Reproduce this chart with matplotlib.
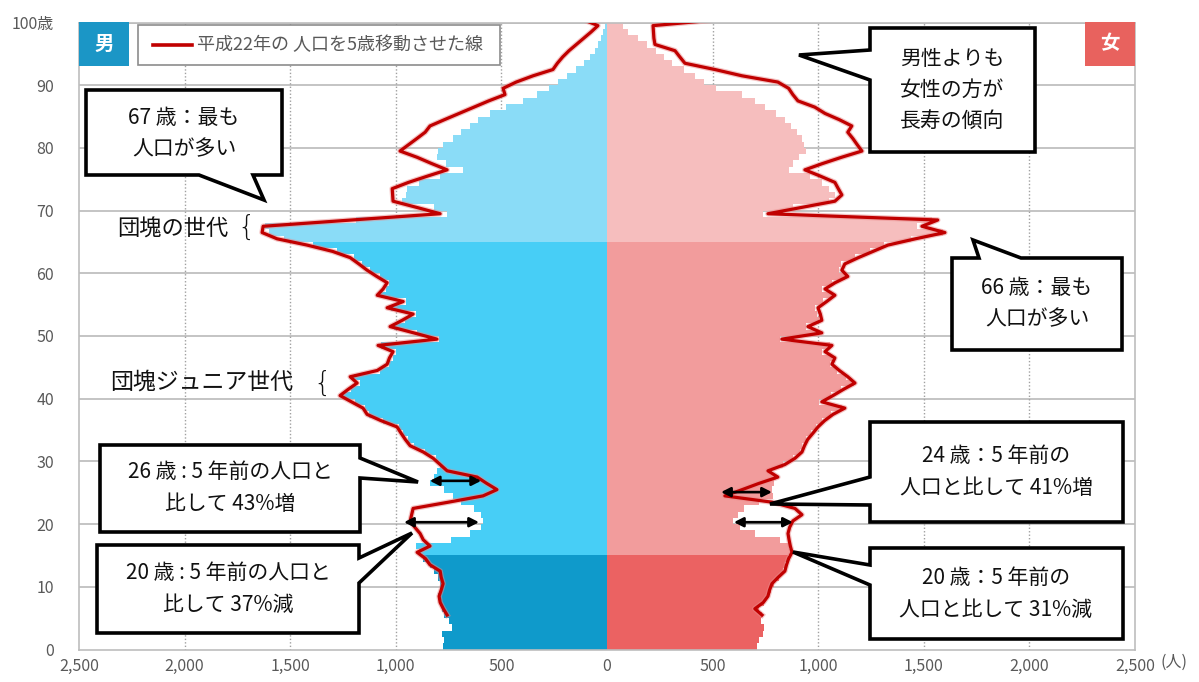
import numpy as np
import matplotlib
matplotlib.use("Agg")
import matplotlib.pyplot as plt
import matplotlib.patheffects as pe
from matplotlib.patches import Polygon, Rectangle
from matplotlib.lines import Line2D

plt.rcParams['font.family'] = ['Noto Sans CJK JP', 'DejaVu Sans']

# ---------------- data ----------------
ages = list(range(0, 101))          # 0 .. 100(100+)
line_ages = list(range(5, 101))     # shifted line exists from age 5

# male population (2015), age 0..100
male_pop = [776, 770, 780, 735, 750, 770, 780, 790, 800, 790,
            790, 800, 820, 840, 870, 890, 905, 740, 650, 595,
            587, 595, 630, 690, 730, 770, 838, 820, 805, 790,
            810, 860, 915, 940, 965, 985, 1060, 1125, 1145, 1195,
            1250, 1210, 1170, 1200, 1075, 1030, 1015, 1000, 1070, 795,
            900, 1010, 955, 905, 1025, 950, 1070, 1045, 1030, 1075,
            1120, 1160, 1200, 1280, 1390, 1530, 1600, 1620, 1190, 757,
            820, 970, 950, 945, 890, 790, 681, 760, 805, 800,
            776, 730, 690, 650, 610, 554, 480, 400, 330, 275,
            230, 190, 145, 110, 80, 58, 42, 30, 19, 10, 5]

# female population (2015), age 0..100
female_pop = [710, 720, 740, 745, 730, 735, 720, 745, 760, 775,
              790, 815, 835, 845, 855, 870, 860, 820, 700, 630,
              598, 620, 650, 720, 785, 780, 790, 800, 770, 835,
              880, 915, 925, 940, 965, 990, 1020, 1060, 1115, 1005,
              1060, 1110, 1170, 1130, 1090, 1055, 1065, 1020, 1055, 820,
              1005, 940, 1005, 995, 985, 1025, 1065, 1020, 1065, 1125,
              1100, 1110, 1175, 1245, 1310, 1440, 1590, 1470, 1540, 740,
              880, 1050, 1080, 1050, 1017, 960, 860, 880, 910, 940,
              935, 925, 900, 870, 845, 800, 750, 700, 640, 515,
              460, 415, 365, 310, 270, 230, 190, 147, 100, 75, 50]

# 2010 population shifted by 5 years (male), age 5..100
male_line = [757, 775, 790, 795, 785, 776, 785, 790, 838, 860,
             899, 838, 870, 885, 910, 932, 925, 918, 750, 587,
             521, 570, 615, 757, 790, 823, 870, 932, 955, 975,
             994, 1070, 1136, 1155, 1210, 1264, 1225, 1183, 1216, 1088,
             1041, 1030, 1013, 1084, 805, 915, 1027, 970, 918, 1041,
             965, 1088, 1060, 1041, 1090, 1136, 1175, 1216, 1300, 1420,
             1562, 1633, 1628, 1210, 790, 900, 1013, 1015, 1017, 940,
             850, 757, 830, 899, 980, 940, 900, 861, 838, 770,
             700, 630, 560, 483, 492, 430, 350, 256, 235, 210,
             180, 145, 110, 75, 43, 115]

# 2010 population shifted by 5 years (female), age 5..100
female_line = [734, 700, 740, 762, 770, 781, 810, 842, 850, 860,
               876, 868, 862, 857, 865, 880, 923, 890, 781, 558,
               640, 720, 809, 762, 842, 890, 923, 935, 950, 975,
               999, 1030, 1070, 1126, 1017, 1070, 1120, 1174, 1140, 1100,
               1065, 1079, 1032, 1065, 828, 1017, 951, 1017, 1010, 999,
               1040, 1079, 1032, 1080, 1140, 1112, 1126, 1190, 1260, 1330,
               1460, 1600, 1491, 1566, 762, 920, 1079, 1112, 1095, 1079,
               1010, 937, 1020, 1110, 1207, 1185, 1164, 1140, 1159, 1100,
               1032, 984, 904, 880, 860, 809, 639, 511, 369, 345,
               322, 227, 222, 220, 218, 544]

x_ticks = [-2500, -2000, -1500, -1000, -500, 0, 500, 1000, 1500, 2000, 2500]
x_tick_labels = ['2,500', '2,000', '1,500', '1,000', '500', '0',
                 '500', '1,000', '1,500', '2,000', '2,500']
y_ticks = [0, 10, 20, 30, 40, 50, 60, 70, 80, 90, 100]
y_tick_labels = ['0', '10', '20', '30', '40', '50', '60', '70', '80', '90', '100歳']

# ---------------- style ----------------
M_YOUNG, M_MID, M_OLD = '#0f9acb', '#47cef6', '#8adcf7'
F_YOUNG, F_MID, F_OLD = '#eb6262', '#f29c9c', '#f6bebe'
LINE_C = '#c00000'
GRID_C = '#c4c4c4'
TICK_C = '#595959'

W, H = 1199, 682
fig = plt.figure(figsize=(W / 100, H / 100), dpi=100)
ax = fig.add_axes([79 / W, 1 - 649.5 / H, (1135 - 79) / W, (649.5 - 22.5) / H])


def grp(a, young, mid, old):
    return young if a < 15 else (mid if a < 65 else old)


male_colors = [grp(a, M_YOUNG, M_MID, M_OLD) for a in ages]
female_colors = [grp(a, F_YOUNG, F_MID, F_OLD) for a in ages]

ax.barh(ages, [-v for v in male_pop], height=1.0, align='edge',
        color=male_colors, linewidth=0, zorder=2)
ax.barh(ages, female_pop, height=1.0, align='edge',
        color=female_colors, linewidth=0, zorder=2)

ly = np.array(line_ages) + 0.5
halo = [pe.Stroke(linewidth=4.0, foreground='#e98a8a', alpha=0.5,
                  joinstyle='round'), pe.Normal()]
ax.plot(-np.array(male_line), ly, color=LINE_C, lw=2.3, zorder=4,
        solid_joinstyle='round', path_effects=halo)
ax.plot(np.array(female_line), ly, color=LINE_C, lw=2.3, zorder=4,
        solid_joinstyle='round', path_effects=halo)

ax.set_xlim(-2500, 2500)
ax.set_ylim(0, 100)
ax.set_axisbelow(True)
for yv in y_ticks[1:]:
    ax.axhline(yv, color=GRID_C, lw=1.4, zorder=0)
for xv in x_ticks[1:-1]:
    ax.axvline(xv, color='#a0a0a0', lw=1.0, ls=(0, (1, 1.5)), zorder=0)

ax.set_xticks(x_ticks)
ax.set_xticklabels(x_tick_labels)
ax.set_yticks(y_ticks)
ax.set_yticklabels(y_tick_labels)
ax.tick_params(length=0, colors=TICK_C, labelsize=11.5)
ax.tick_params(axis='y', pad=18)
ax.tick_params(axis='x', pad=6)
for sp in ax.spines.values():
    sp.set_color('#bdbdbd')
    sp.set_linewidth(1.2)

# unit label
fig.text(1174 / W, 1 - 662 / H, '(人)', fontsize=11.5, color=TICK_C,
         ha='center', va='center')


def P(x, y):
    return (x / W, 1 - y / H)


# sex boxes
fig.add_artist(Rectangle(P(79, 66), 50 / W, 44 / H, transform=fig.transFigure,
                         facecolor='#1b96c6', edgecolor='none', zorder=6))
fig.text(104 / W, 1 - 44 / H, '男', color='white', fontsize=14,
         fontweight='bold', ha='center', va='center', zorder=7)
fig.add_artist(Rectangle(P(1085, 66), 50 / W, 44 / H, transform=fig.transFigure,
                         facecolor='#e8625e', edgecolor='none', zorder=6))
fig.text(1110 / W, 1 - 44 / H, '女', color='white', fontsize=14,
         fontweight='bold', ha='center', va='center', zorder=7)

# legend
fig.add_artist(Rectangle(P(138, 65), 362 / W, 40 / H, transform=fig.transFigure,
                         facecolor='white', edgecolor='#8c8c8c', lw=1.2, zorder=6))
fig.add_artist(Line2D([153 / W, 192 / W], [1 - 45 / H, 1 - 45 / H],
                      transform=fig.transFigure, color=LINE_C, lw=2.6, zorder=7))
fig.text(197 / W, 1 - 45 / H, '平成22年の 人口を5歳移動させた線', fontsize=13,
         color='#595959', ha='left', va='center', zorder=7)


def callout(pts, text, cx, cy, size=15, ls=1.55):
    fig.add_artist(Polygon([P(*p) for p in pts], closed=True,
                           transform=fig.transFigure, facecolor='white',
                           edgecolor='black', lw=2.6, joinstyle='miter',
                           zorder=8))
    fig.text(cx / W, 1 - cy / H, text, fontsize=size, ha='center',
             va='center', linespacing=ls, color='#111111', zorder=9)


callout([(86, 90), (282, 90), (282, 175), (253, 175), (264, 200),
         (199, 175), (86, 175)],
        '67 歳：最も\n人口が多い', 184, 134)
callout([(870, 28), (1035, 28), (1035, 152), (870, 152), (870, 80),
         (799, 55), (870, 50)],
        '男性よりも\n女性の方が\n長寿の傾向', 952, 90)
callout([(952, 258), (979, 258), (973, 240), (1021, 258), (1122, 258),
         (1122, 350), (952, 350)],
        '66 歳：最も\n人口が多い', 1037, 304)
callout([(100, 445), (360, 445), (360, 458), (418, 482), (360, 478),
         (360, 532), (100, 532)],
        '26 歳 : 5 年前の人口と\n比して 43%増', 230, 488)
callout([(97, 545), (359, 545), (359, 558), (412, 533), (359, 583),
         (359, 633), (97, 633)],
        '20 歳 : 5 年前の人口と\n比して 37%減', 228, 589)
callout([(870, 422), (1123, 422), (1123, 522), (870, 522), (870, 505),
         (770, 504), (870, 477)],
        '24 歳：5 年前の\n人口と比して 41%増', 996, 472)
callout([(870, 548), (1123, 548), (1123, 639), (870, 639), (870, 585),
         (793, 552), (870, 565)],
        '20 歳：5 年前の\n人口と比して 31%減', 996, 594)

# generation labels
fig.text(173 / W, 1 - 229 / H, '団塊の世代', fontsize=16, ha='center',
         va='center', color='#111111', zorder=9)
fig.text(246 / W, 1 - 228 / H, '{', fontsize=20, ha='center', va='center',
         color='#111111', family='DejaVu Sans', fontweight='light', zorder=9)
fig.text(202 / W, 1 - 382 / H, '団塊ジュニア世代', fontsize=16.5, ha='center',
         va='center', color='#111111', zorder=9)
fig.text(322 / W, 1 - 384 / H, '{', fontsize=20, ha='center', va='center',
         color='#111111', family='DejaVu Sans', fontweight='light', zorder=9)

# double arrows (annotation positions in data coordinates)
arrow_kw = dict(arrowstyle='<|-|>,head_length=0.55,head_width=0.28',
                color='black', lw=1.9, shrinkA=0, shrinkB=0)
ax.annotate('', xy=(-839, 26.9), xytext=(-596, 26.9), arrowprops=arrow_kw, zorder=6)
ax.annotate('', xy=(-961, 20.3), xytext=(-606, 20.3), arrowprops=arrow_kw, zorder=6)
ax.annotate('', xy=(540, 25.1), xytext=(781, 25.1), arrowprops=arrow_kw, zorder=6)
ax.annotate('', xy=(601, 20.3), xytext=(880, 20.3), arrowprops=arrow_kw, zorder=6)

fig.savefig('out.png', dpi=100, facecolor='white')
